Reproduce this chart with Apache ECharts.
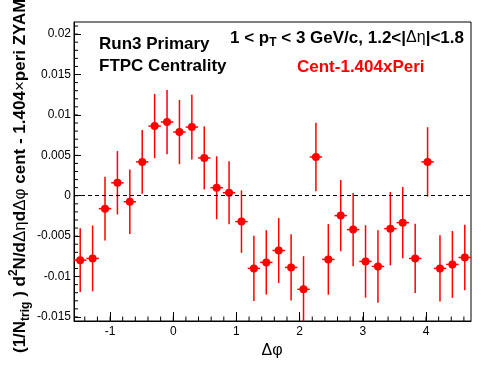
<!DOCTYPE html>
<html><head><meta charset="utf-8">
<script src="https://cdn.jsdelivr.net/npm/echarts@6/dist/echarts.min.js"></script>
<style>html,body{margin:0;padding:0;background:#fff}#c{width:496px;height:374px}</style>
</head><body><div id="c"></div>
<script>
// ---- data ----
const dphi = [-1.4726,-1.2763,-1.0799,-0.8836,-0.6872,-0.4909,-0.2945,-0.0982,
  0.0982,0.2945,0.4909,0.6872,0.8836,1.0799,1.2763,1.4726,
  1.6690,1.8653,2.0617,2.2580,2.4544,2.6507,2.8471,3.0434,
  3.2398,3.4361,3.6325,3.8288,4.0252,4.2215,4.4179,4.6142];
const yield_ = [-0.00797,-0.00776,-0.00160,0.00160,-0.00074,0.00419,0.00862,0.00912,
  0.00788,0.00850,0.00468,0.00099,0.00037,-0.00320,-0.00899,-0.00825,
  -0.00678,-0.00887,-0.01158,0.00480,-0.00788,-0.00246,-0.00419,-0.00813,
  -0.00875,-0.00407,-0.00333,-0.00776,0.00419,-0.00899,-0.00850,-0.00764];
const yErr = [0.00394,0.00407,0.00394,0.00392,0.00400,0.00394,0.00398,0.00398,
  0.00398,0.00400,0.00390,0.00390,0.00390,0.00386,0.00404,0.00398,
  0.00403,0.00409,0.00410,0.00423,0.00437,0.00441,0.00454,0.00448,
  0.00448,0.00454,0.00441,0.00429,0.00429,0.00410,0.00413,0.00404];
const binHalfWidth = 0.0982;
const xMin = -1.5708, xMax = 4.7124;
const yMin = -0.0155, yMax = 0.0215;
const xTicks = [-1, 0, 1, 2, 3, 4];
const yTicks = [-0.015, -0.01, -0.005, 0, 0.005, 0.01, 0.015, 0.02];
const yTickLabels = ['-0.015', '-0.01', '-0.005', '0', '0.005', '0.01', '0.015', '0.02'];
const xMinorStep = 0.2, yMinorStep = 0.001;

const xMinor = [];
for (let k = Math.ceil(xMin / xMinorStep); k * xMinorStep <= xMax; k++) xMinor.push(+(k * xMinorStep).toFixed(4));
const yMinor = [];
for (let k = Math.ceil(yMin / yMinorStep); k * yMinorStep <= yMax; k++) yMinor.push(+(k * yMinorStep).toFixed(4));

const FONT = '"Liberation Sans", Arial, Helvetica, sans-serif';
const RED = '#ff0000';

const chart = echarts.init(document.getElementById('c'), null, {renderer: 'canvas'});
const pts = dphi.map((x, i) => [x, yield_[i], yErr[i]]);

chart.setOption({
  animation: false,
  backgroundColor: '#fff',
  grid: {left: 74, right: 25, top: 22, bottom: 53, show: true, borderColor: '#000', borderWidth: 1, backgroundColor: 'transparent'},
  xAxis: {type: 'value', min: xMin, max: xMax, position: 'bottom', splitLine: {show: false},
    axisLine: {show: true, onZero: false, lineStyle: {color: '#000', width: 1}},
    axisTick: {show: true, inside: true, length: 9, customValues: xTicks, lineStyle: {color: '#000', width: 1}},
    axisLabel: {show: true, customValues: xTicks, color: '#000', fontSize: 12, fontFamily: FONT, margin: 5,
      formatter: v => String(v)}},
  yAxis: {type: 'value', min: yMin, max: yMax, position: 'left', splitLine: {show: false},
    axisLine: {show: true, onZero: false, lineStyle: {color: '#000', width: 1}},
    axisTick: {show: true, inside: true, length: 7, customValues: yTicks, lineStyle: {color: '#000', width: 1}},
    axisLabel: {show: true, customValues: yTicks, color: '#000', fontSize: 12, fontFamily: FONT, margin: 3,
      formatter: v => yTickLabels[yTicks.findIndex(t => Math.abs(t - v) < 1e-9)] ?? String(v)}},
  series: [
    { // minor ticks on x axis
      type: 'custom', data: xMinor.map(v => [v, yMin]), clip: false, silent: true, z: 2,
      renderItem(params, api) {
        const p = api.coord([api.value(0), yMin]);
        return {type: 'line', shape: {x1: p[0], y1: p[1], x2: p[0], y2: p[1] - 4.5}, style: {stroke: '#000', lineWidth: 1}};
      }
    },
    { // minor ticks on y axis
      type: 'custom', data: yMinor.map(v => [xMin, v]), clip: false, silent: true, z: 2,
      renderItem(params, api) {
        const p = api.coord([xMin, api.value(1)]);
        return {type: 'line', shape: {x1: p[0], y1: p[1], x2: p[0] + 4, y2: p[1]}, style: {stroke: '#000', lineWidth: 1}};
      }
    },
    {
      type: 'custom', data: pts, clip: true, z: 3,
      renderItem(params, api) {
        const x = api.value(0), y = api.value(1), e = api.value(2);
        const c = api.coord([x, y]);
        const t = api.coord([x, Math.min(y + e, yMax)]);
        const b = api.coord([x, Math.max(y - e, yMin)]);
        const l = api.coord([x - binHalfWidth, y]);
        const r = api.coord([x + binHalfWidth, y]);
        return {type: 'group', children: [
          {type: 'line', shape: {x1: c[0], y1: t[1], x2: c[0], y2: b[1]}, style: {stroke: RED, lineWidth: 1.5}},
          {type: 'line', shape: {x1: l[0], y1: c[1], x2: r[0], y2: c[1]}, style: {stroke: RED, lineWidth: 1.5}}
        ]};
      }
    },
    {
      type: 'scatter', data: pts.map(p => [p[0], p[1]]),
      symbol: 'circle', symbolSize: 8, itemStyle: {color: RED, opacity: 1}, z: 4,
      markLine: {silent: true, symbol: 'none', label: {show: false}, animation: false,
        lineStyle: {color: '#000', type: [4, 3], width: 1},
        data: [{yAxis: 0}]}
    }
  ],
  graphic: [
    {type: 'text', x: 99, y: 44, style: {text: 'Run3 Primary', font: 'bold 17px ' + FONT, fill: '#000', verticalAlign: 'middle', align: 'left'}},
    {type: 'text', x: 99, y: 66, style: {text: 'FTPC Centrality', font: 'bold 17px ' + FONT, fill: '#000', verticalAlign: 'middle', align: 'left'}},
    {type: 'text', x: 230, y: 38, style: {
      text: '{m|1 < p}{sub|T}{m| < 3 GeV/c, 1.2<|}{s|Δη}{m||<1.8}',
      verticalAlign: 'middle', align: 'left',
      rich: {
        m: {fontFamily: FONT, fontWeight: 'bold', fontSize: 17, lineHeight: 22, color: '#000'},
        sub: {fontFamily: FONT, fontWeight: 'bold', fontSize: 12, lineHeight: 9, verticalAlign: 'bottom', color: '#000'},
        s: {fontFamily: FONT, fontWeight: 'normal', fontSize: 16, lineHeight: 22, color: '#000'}
      }}},
    {type: 'text', x: 297, y: 67.5, style: {text: 'Cent-1.404xPeri', font: 'bold 17px ' + FONT, fill: RED, verticalAlign: 'middle', align: 'left'}},
    {type: 'text', x: 272, y: 351, style: {text: 'Δφ', font: '16px ' + FONT, fill: '#000', verticalAlign: 'middle', align: 'center'}},
    {type: 'text', x: 20, y: 353, rotation: Math.PI / 2, style: {
      text: '{m|(1/N}{sub|trig}{m| ) d}{sup|2}{m|N/d}{s|Δη}{m|d}{s|Δφ}{m| cent - 1.404}{s|×}{m|peri ZYAMed}',
      verticalAlign: 'middle', align: 'left',
      rich: {
        m: {fontFamily: FONT, fontWeight: 'bold', fontSize: 17, lineHeight: 24, color: '#000'},
        sub: {fontFamily: FONT, fontWeight: 'bold', fontSize: 12, lineHeight: 9, verticalAlign: 'bottom', color: '#000'},
        sup: {fontFamily: FONT, fontWeight: 'bold', fontSize: 12, lineHeight: 12, verticalAlign: 'top', color: '#000'},
        s: {fontFamily: FONT, fontWeight: 'normal', fontSize: 17, lineHeight: 24, color: '#000'}
      }}}
  ]
});
</script></body></html>
